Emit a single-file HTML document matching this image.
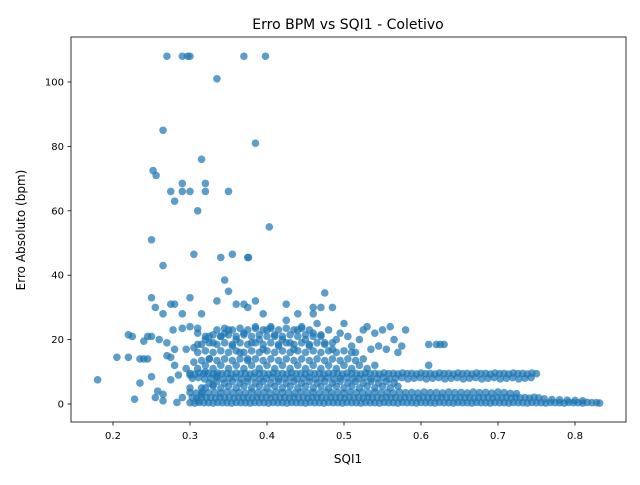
<!DOCTYPE html>
<html><head><meta charset="utf-8"><style>
body{margin:0;background:#fff;font-family:"Liberation Sans","DejaVu Sans",sans-serif}
svg text{font-family:"DejaVu Sans","Liberation Sans",sans-serif}
</style></head><body>
<svg id="chart" width="640" height="480" xmlns="http://www.w3.org/2000/svg">
<rect width="640" height="480" fill="#fff"/>
<text x="348" y="29" text-anchor="middle" font-size="14">Erro BPM vs SQI1 - Coletivo</text>
<text x="348" y="463" text-anchor="middle" font-size="12">SQI1</text>
<text transform="translate(25,230) rotate(-90)" text-anchor="middle" font-size="12">Erro Absoluto (bpm)</text>
<g id="pts"></g>
<g id="axes"></g>
<rect x="71" y="37" width="555" height="385" fill="none" stroke="#000" stroke-width="0.8"/>
</svg>
<script>
const xTicks=[0.2,0.3,0.4,0.5,0.6,0.7,0.8];
const yTicks=[0,20,40,60,80,100];
const sqiOut=[0.27,0.29,0.297,0.30,0.37,0.398,0.335,0.265,0.385,0.315,0.252,0.256,0.29,0.32,0.275,0.29,0.30,0.32,0.35,0.28,0.31,0.403,0.25,0.305,0.355,0.34,0.375,0.376,0.265,0.345,0.35,0.475,0.25,0.30,0.335,0.385,0.275,0.28,0.36,0.37,0.425,0.255,0.375,0.46,0.47,0.485,0.265,0.29,0.315,0.395,0.44,0.46];
const erroOut=[108,108,108,108,108,108,101,85,81,76,72.5,71,68.5,68.5,66,66,66,66,66,63,60,55,51,46.5,46.5,45.5,45.5,45.5,43,38.5,35,34.5,33,33,32,32,31,31,31,31,31,30,30,30,30,30,28,28,28,28,28,28];
const sqiMid=[0.18,0.205,0.22,0.22,0.225,0.228,0.235,0.235,0.24,0.24,0.245,0.245,0.25,0.25,0.255,0.258,0.26,0.265,0.265,0.27,0.27,0.275,0.275,0.278,0.28,0.28,0.283,0.285,0.29,0.29,0.295,0.295,0.30,0.30,0.30,0.305,0.305,0.31,0.31,0.315,0.32,0.32,0.325,0.33,0.33,0.335,0.34,0.345,0.35,0.355,0.36,0.365,0.37,0.375,0.38,0.385,0.39,0.395,0.40,0.405,0.41,0.415,0.42,0.425,0.43,0.435,0.44,0.445,0.45,0.455,0.46,0.465,0.47,0.475,0.48,0.485,0.49,0.495,0.50,0.505,0.51,0.515,0.52,0.525,0.53,0.535,0.54,0.545,0.55,0.555,0.56,0.565,0.57,0.575,0.58,0.61,0.62,0.625,0.63,0.61];
const erroMid=[7.5,14.5,14.5,21.5,21,1.5,6.5,14,19.5,14,14,21,8.5,21,2,4,20,3,1,15,19,7.5,14.5,23,17,12,0.5,9,2,23.5,17,11,5,24,9,17.5,13,1,22,3,20,10,14,19,6,9,21,22,23,18,20,16,22,14,19,24,20,17,23,24,21,18,20,26,19,17,23,24,20,18,22,25,21,19,23,17,20,22,25,21,18,16,20,23,24,17,22,18,23,17,24,20,16,18,23,18.5,18.5,18.5,18.5,12];
const sqiFill=[0.31,0.32,0.33,0.34,0.35,0.36,0.37,0.38,0.39,0.40,0.41,0.42,0.43,0.44,0.45,0.46,0.47,0.48,0.49,0.50,0.51,0.52,0.53,0.54,0.315,0.325,0.335,0.345,0.355,0.365,0.375,0.385,0.395,0.405,0.415,0.425,0.435,0.445,0.455,0.465,0.475,0.485,0.495,0.505,0.515,0.525,0.31,0.32,0.33,0.34,0.35,0.36,0.37,0.38,0.39,0.40,0.41,0.42,0.43,0.44,0.45,0.46,0.47,0.48,0.49,0.50,0.51,0.315,0.325,0.335,0.345,0.355,0.365,0.375,0.385,0.395,0.405,0.415,0.425,0.435,0.445,0.455,0.465,0.475,0.485,0.31,0.32,0.33,0.34,0.35,0.36,0.37,0.38,0.39,0.40,0.41,0.42,0.43,0.44,0.45,0.46,0.47,0.325,0.335,0.345,0.355,0.365,0.375,0.385,0.395,0.405,0.415,0.425,0.435,0.445,0.455,0.31,0.32,0.33,0.34,0.35,0.36,0.37,0.38,0.39,0.40,0.41,0.42,0.43,0.44,0.45,0.46,0.47,0.48,0.49,0.50,0.51,0.52,0.53,0.54,0.55,0.56,0.57,0.315,0.325,0.335,0.345,0.355,0.365,0.375,0.385,0.395,0.405,0.415,0.425,0.435,0.445,0.455,0.465,0.475,0.485,0.495,0.505,0.515,0.525,0.535,0.545,0.555,0.565];
const erroFill=[11,12,11,12,11,12,11,12,11,12,11,12,11,12,11,12,11,12,11,12,11,12,11,12,13.5,14,13.5,14,13.5,14,13.5,14,13.5,14,13.5,14,13.5,14,13.5,14,13.5,14,13.5,14,13.5,14,16,16.5,16,16.5,16,16.5,16,16.5,16,16.5,16,16.5,16,16.5,16,16.5,16,16.5,16,16.5,16,18.5,19,18.5,19,18.5,19,18.5,19,18.5,19,18.5,19,18.5,19,18.5,19,18.5,19,18.5,21,21.5,21,21.5,21,21.5,21,21.5,21,21.5,21,21.5,21,21.5,21,21.5,21,23,23.5,23,23.5,23,23.5,23,23.5,23,23.5,23,23.5,23,23.5,5,5.5,5,5.5,5,5.5,5,5.5,5,5.5,5,5.5,5,5.5,5,5.5,5,5.5,5,5.5,5,5.5,5,5.5,5,5.5,5,6.5,7,6.5,7,6.5,7,6.5,7,6.5,7,6.5,7,6.5,7,6.5,7,6.5,7,6.5,7,6.5,7,6.5,7,6.5,7];
const sqiBand=[0.30,0.306,0.312,0.318,0.324,0.33,0.336,0.342,0.348,0.354,0.36,0.366,0.372,0.378,0.384,0.39,0.396,0.402,0.408,0.414,0.42,0.426,0.432,0.438,0.444,0.45,0.456,0.462,0.468,0.474,0.48,0.486,0.492,0.498,0.504,0.51,0.516,0.522,0.528,0.534,0.54,0.546,0.552,0.558,0.564,0.57,0.576,0.582,0.588,0.594,0.60,0.606,0.612,0.618,0.624,0.63,0.636,0.642,0.648,0.654,0.66,0.666,0.672,0.678,0.684,0.69,0.696,0.702,0.708,0.714,0.72,0.726,0.732,0.738,0.744,0.75,0.303,0.311,0.319,0.327,0.335,0.343,0.351,0.359,0.367,0.375,0.383,0.391,0.399,0.407,0.415,0.423,0.431,0.439,0.447,0.455,0.463,0.471,0.479,0.487,0.495,0.503,0.511,0.519,0.527,0.535,0.543,0.551,0.559,0.567,0.575,0.583,0.591,0.599,0.607,0.615,0.623,0.631,0.639,0.647,0.655,0.663,0.671,0.679,0.687,0.695,0.703,0.711,0.719,0.727,0.735,0.743];
const erroBand=[9.5,9.3,9.6,9.4,9.5,9.3,9.6,9.4,9.5,9.3,9.6,9.4,9.5,9.3,9.6,9.4,9.5,9.3,9.6,9.4,9.5,9.3,9.6,9.4,9.5,9.3,9.6,9.4,9.5,9.3,9.6,9.4,9.5,9.3,9.6,9.4,9.5,9.3,9.6,9.4,9.5,9.3,9.6,9.4,9.5,9.3,9.6,9.4,9.5,9.3,9.6,9.4,9.5,9.3,9.6,9.4,9.5,9.3,9.6,9.4,9.5,9.3,9.6,9.4,9.5,9.3,9.6,9.4,9.5,9.3,9.6,9.4,9.5,9.3,9.6,9.4,8,8.2,7.8,8,8.2,7.8,8,8.2,7.8,8,8.2,7.8,8,8.2,7.8,8,8.2,7.8,8,8.2,7.8,8,8.2,7.8,8,8.2,7.8,8,8.2,7.8,8,8.2,7.8,8,8.2,7.8,8,8.2,7.8,8,8.2,7.8,8,8.2,7.8,8,8.2,7.8,8,8.2,7.8,8,8.2,7.8,8,8.2,7.8];
const sqiLow=[0.30,0.306,0.312,0.318,0.324,0.33,0.336,0.342,0.348,0.354,0.36,0.366,0.372,0.378,0.384,0.39,0.396,0.402,0.408,0.414,0.42,0.426,0.432,0.438,0.444,0.45,0.456,0.462,0.468,0.474,0.48,0.486,0.492,0.498,0.504,0.51,0.516,0.522,0.528,0.534,0.54,0.546,0.552,0.558,0.564,0.57,0.576,0.582,0.588,0.594,0.60,0.606,0.612,0.618,0.624,0.63,0.636,0.642,0.648,0.654,0.66,0.666,0.672,0.678,0.684,0.69,0.696,0.702,0.708,0.714,0.72,0.726,0.732,0.738,0.744,0.75,0.756,0.762,0.768,0.774,0.78,0.786,0.792,0.798,0.804,0.81,0.816,0.822,0.828,0.832];
const erroLow=[0.4,0.3,0.5,0.4,0.4,0.3,0.5,0.4,0.4,0.3,0.5,0.4,0.4,0.3,0.5,0.4,0.4,0.3,0.5,0.4,0.4,0.3,0.5,0.4,0.4,0.3,0.5,0.4,0.4,0.3,0.5,0.4,0.4,0.3,0.5,0.4,0.4,0.3,0.5,0.4,0.4,0.3,0.5,0.4,0.4,0.3,0.5,0.4,0.4,0.3,0.5,0.4,0.4,0.3,0.5,0.4,0.4,0.3,0.5,0.4,0.4,0.3,0.5,0.4,0.4,0.3,0.5,0.4,0.4,0.3,0.5,0.4,0.4,0.3,0.5,0.4,0.4,0.3,0.5,0.4,0.4,0.3,0.5,0.4,0.4,0.3,0.5,0.4,0.4,0.3];
const sqiLow2=[0.303,0.309,0.315,0.321,0.327,0.333,0.339,0.345,0.351,0.357,0.363,0.369,0.375,0.381,0.387,0.393,0.399,0.405,0.411,0.417,0.423,0.429,0.435,0.441,0.447,0.453,0.459,0.465,0.471,0.477,0.483,0.489,0.495,0.501,0.507,0.513,0.519,0.525,0.531,0.537,0.543,0.549,0.555,0.561,0.567,0.573,0.579,0.585,0.591,0.597,0.603,0.609,0.615,0.621,0.627,0.633,0.639,0.645,0.651,0.657,0.663,0.669,0.675,0.681,0.687,0.693,0.699,0.705,0.711,0.717,0.723,0.729,0.735,0.741,0.747,0.753,0.76,0.77,0.78,0.79,0.80,0.81];
const erroLow2=[2,1.8,2.1,1.9,2,1.8,2.1,1.9,2,1.8,2.1,1.9,2,1.8,2.1,1.9,2,1.8,2.1,1.9,2,1.8,2.1,1.9,2,1.8,2.1,1.9,2,1.8,2.1,1.9,2,1.8,2.1,1.9,2,1.8,2.1,1.9,2,1.8,2.1,1.9,2,1.8,2.1,1.9,2,1.8,2.1,1.9,2,1.8,2.1,1.9,2,1.8,2.1,1.9,2,1.8,2.1,1.9,2,1.8,2.1,1.9,2,1.8,2.1,1.9,2,1.8,2.1,1.9,1.6,1.4,1.3,1.2,1.1,1.0];
const sqiLow3=[0.30,0.308,0.316,0.324,0.332,0.34,0.348,0.356,0.364,0.372,0.38,0.388,0.396,0.404,0.412,0.42,0.428,0.436,0.444,0.452,0.46,0.468,0.476,0.484,0.492,0.50,0.508,0.516,0.524,0.532,0.54,0.548,0.556,0.564,0.572,0.58,0.588,0.596,0.604,0.612,0.62,0.628,0.636,0.644,0.652,0.66,0.668,0.676,0.684,0.692,0.70,0.708,0.716,0.724];
const erroLow3=[3.6,3.4,3.7,3.5,3.6,3.4,3.7,3.5,3.6,3.4,3.7,3.5,3.6,3.4,3.7,3.5,3.6,3.4,3.7,3.5,3.6,3.4,3.7,3.5,3.6,3.4,3.7,3.5,3.6,3.4,3.7,3.5,3.6,3.4,3.7,3.5,3.6,3.4,3.7,3.5,3.6,3.4,3.7,3.5,3.6,3.4,3.7,3.5,3.6,3.4,3.7,3.5,3.3,3.2];
const X=v=>113+(v-0.2)*770;
const Y=v=>404-v*3.22;
const NS='http://www.w3.org/2000/svg';
const axes=document.getElementById('axes');
xTicks.forEach(t=>{
 const l=document.createElementNS(NS,'line');
 
 
 l.setAttribute('x1',X(t));l.setAttribute('x2',X(t));l.setAttribute('y1',422);l.setAttribute('y2',425.5);l.setAttribute('stroke','#000');l.setAttribute('stroke-width','0.8');
 axes.appendChild(l);
 const s=document.createElementNS(NS,'text');
 
 
 s.setAttribute('x',X(t));s.setAttribute('y',439);s.setAttribute('text-anchor','middle');s.setAttribute('font-size','10');
 s.textContent=t.toFixed(1);axes.appendChild(s);
});
yTicks.forEach(t=>{
 const l=document.createElementNS(NS,'line');
 
 
 l.setAttribute('x1',67.5);l.setAttribute('x2',71);l.setAttribute('y1',Y(t));l.setAttribute('y2',Y(t));l.setAttribute('stroke','#000');l.setAttribute('stroke-width','0.8');
 axes.appendChild(l);
 const s=document.createElementNS(NS,'text');
 
 
 s.setAttribute('x',64);s.setAttribute('y',Y(t)+3.5);s.setAttribute('text-anchor','end');s.setAttribute('font-size','10');
 s.textContent=t;axes.appendChild(s);
});
const g=document.getElementById('pts');
[[sqiLow,erroLow],[sqiLow2,erroLow2],[sqiLow3,erroLow3],[sqiBand,erroBand],[sqiFill,erroFill],[sqiMid,erroMid],[sqiOut,erroOut]].forEach(([xs,ys])=>{
 xs.forEach((x,i)=>{
  const c=document.createElementNS(NS,'circle');
  
  
  c.setAttribute('cx',X(x));c.setAttribute('cy',Y(ys[i]));c.setAttribute('r',3.8);
  c.setAttribute('fill','#1f77b4');c.setAttribute('fill-opacity','0.72');
  g.appendChild(c);
 });
});
</script>
</body></html>
